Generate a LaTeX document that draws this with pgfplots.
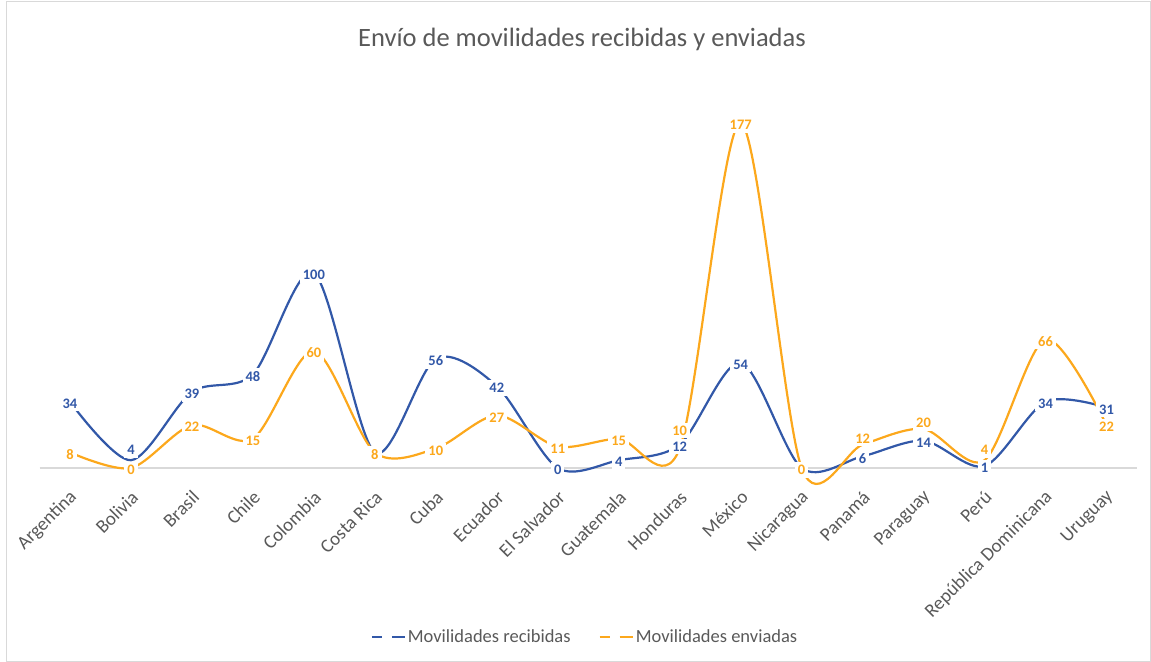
\documentclass[border=0pt]{standalone}
\usepackage{pgfplots}
\pgfplotsset{compat=1.18}
\usepackage{pgfplotstable}
\usepackage{fontspec}
\setmainfont{Carlito}
\definecolor{cblue}{RGB}{50,88,168}
\definecolor{corange}{RGB}{252,168,28}
\definecolor{txtgray}{RGB}{89,89,89}
\definecolor{linegray}{RGB}{217,217,217}

\pgfplotstableread{
x rec env drec denv
0 34 8 0 0
1 4 0 12 0
2 39 22 0 0
3 48 15 0 0
4 100 60 0 0
5 8 8 0 0
6 56 10 0 0
7 42 27 0 0
8 0 11 0 0
9 4 15 0 0
10 12 10 0 20
11 54 177 0 0
12 0 0 0 0
13 6 12 0 8
14 14 20 0 8
15 1 4 0 12
16 34 66 0 0
17 31 22 0 0
}\datatable

\begin{document}
\begin{tikzpicture}
\useasboundingbox (0,0) rectangle (1151bp,662bp);
\draw[linegray, line width=1bp] (6bp,1bp) rectangle (1150bp,660bp);
\node[font=\fontsize{26.5bp}{30bp}\selectfont, text=txtgray] at (582bp,623bp) {Envío de movilidades recibidas y enviadas};
\begin{axis}[
  at={(39.5bp,194bp)}, anchor=south west,
  scale only axis,
  width=1097.5bp, height=390bp,
  xmin=-0.5, xmax=17.5, ymin=0, ymax=200,
  clip=false,
  /pgf/number format/assume math mode=true,
  axis x line*=bottom,
  axis y line=none,
  x axis line style={linegray, line width=1.2bp, -},
  xtick={0,...,17},
  xticklabels={Argentina,Bolivia,Brasil,Chile,Colombia,Costa Rica,Cuba,Ecuador,El Salvador,Guatemala,Honduras,México,Nicaragua,Panamá,Paraguay,Perú,República Dominicana,Uruguay},
  major tick length=0pt,
  xticklabel style={xshift=4bp, yshift=-26bp, rotate=45, anchor=east, inner sep=0pt, text=txtgray, font=\fontsize{19bp}{22bp}\selectfont},
  ytick=\empty,
  legend columns=2,
  legend style={at={(0.497,-0.433)}, anchor=center, draw=none, fill=none,
    font=\fontsize{18.5bp}{21bp}\selectfont, text=txtgray,
    /tikz/every even column/.append style={column sep=26bp}},
  legend image code/.code={
    \draw[#1, line width=2.2bp] (0bp,0bp) -- (10bp,0bp);
    \draw[#1, line width=2.2bp] (20bp,0bp) -- (33bp,0bp);
  },
  every node near coord/.append style={anchor=center, fill=white, inner sep=3bp,
    font=\bfseries\fontsize{14.5bp}{16bp}\selectfont},
]
\addplot[cblue, line width=2.2bp, smooth, tension=0.5] table[x=x,y=rec] {\datatable};
\addlegendentry{Movilidades recibidas}
\addplot[corange, line width=2.2bp, smooth, tension=0.5] table[x=x,y=env] {\datatable};
\addlegendentry{Movilidades enviadas}
\addplot[draw=none, forget plot, nodes near coords, point meta=explicit,
  visualization depends on={\thisrow{drec} \as \dy},
  nodes near coords style={text=cblue, yshift=\dy pt, yshift=-2pt}]
  table[x=x,y=rec,meta=rec] {\datatable};
\addplot[draw=none, forget plot, nodes near coords, point meta=explicit,
  visualization depends on={\thisrow{denv} \as \dy},
  nodes near coords style={text=corange, yshift=\dy pt, yshift=-2pt}]
  table[x=x,y=env,meta=env] {\datatable};
\end{axis}
\end{tikzpicture}
\end{document}
